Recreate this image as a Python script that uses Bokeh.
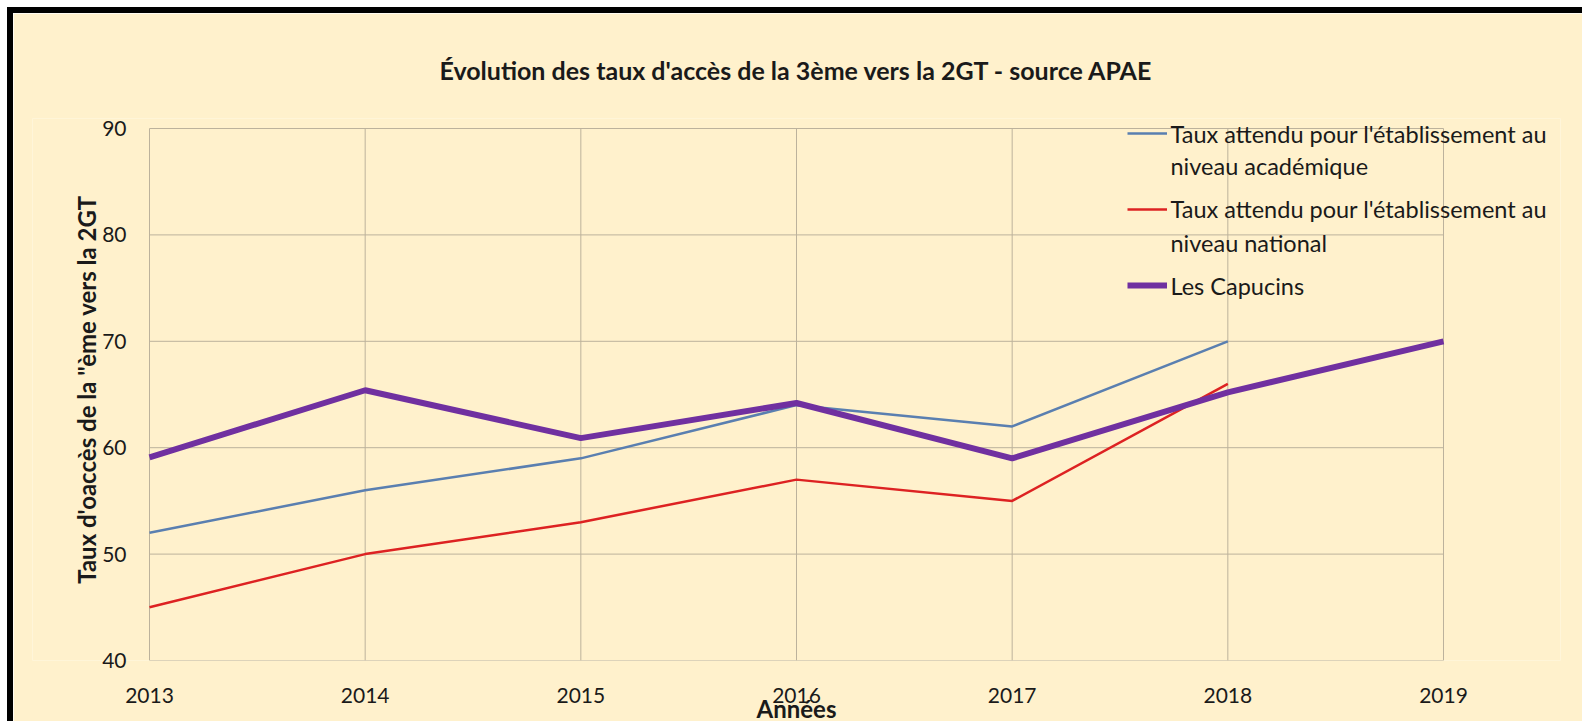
from bokeh.plotting import figure
from bokeh.models import Range1d, FixedTicker, Legend, LegendItem, Label
from bokeh.embed import file_html
from bokeh.resources import INLINE

years = [2013, 2014, 2015, 2016, 2017, 2018, 2019]
years_ref = [2013, 2014, 2015, 2016, 2017, 2018]
academique = [52, 56, 59, 64, 62, 70]
national = [45, 50, 53, 57, 55, 66]
capucins = [59.1, 65.4, 60.9, 64.2, 59.0, 65.2, 70.0]
y_ticks = [40, 50, 60, 70, 80, 90]

legend_lines = [
    ["Taux attendu pour l'établissement au", "niveau académique"],
    ["Taux attendu pour l'établissement au", "niveau national"],
    ["Les Capucins"],
]

BG = "#FFF1CC"
GRID = "#BCB29C"
TXT = "#1a1a1a"
FONT = "Lato"

# layout geometry (canvas pixels)
W, H = 1575, 714
GRID_L, GRID_R = 136, 1430          # where 2013 and 2019 sit
PLOT_T, PLOT_B = 105, 647            # drawing frame top / bottom (40 at the bottom)
GRID_H = 532                         # pixel height of the 40..90 grid area
EXT = 117                            # frame is widened by this much on both sides (keeps 2016 centred)
PLOT_L, PLOT_R = GRID_L - EXT, GRID_R + EXT

x0, x1 = years[0], years[-1]
y0, y1 = y_ticks[0], y_ticks[-1]
px_per_year = (GRID_R - GRID_L) / (x1 - x0)
x_start = x0 - EXT / px_per_year
x_end = x1 + EXT / px_per_year
y_end = y0 + (y1 - y0) * (PLOT_B - PLOT_T) / GRID_H

p = figure(width=W, height=H, output_backend="svg", toolbar_location=None,
           x_range=Range1d(x_start, x_end), y_range=Range1d(y0, y_end),
           title="Évolution des taux d'accès de la 3ème vers la 2GT - source APAE",
           min_border_left=PLOT_L, min_border_right=W - PLOT_R,
           min_border_top=PLOT_T, min_border_bottom=H - PLOT_B)
p.styles = {"border-top": "6px solid black", "border-left": "6px solid black",
            "margin-top": "7px", "margin-left": "7px"}
p.background_fill_color = BG
p.border_fill_color = BG
p.outline_line_color = None

p.title.align = "left"
p.title.text_font = FONT
p.title.text_font_size = "25px"
p.title.text_font_style = "bold"
p.title.text_color = TXT
p.title.standoff = 68
p.title.offset = 290 + EXT

for ax in (p.xaxis[0], p.yaxis[0]):
    ax.axis_line_color = None
    ax.major_tick_line_color = None
    ax.minor_tick_line_color = None
    ax.major_tick_out = 0
    ax.major_tick_in = 0
    ax.minor_tick_out = 0
    ax.major_label_text_font = FONT
    ax.major_label_text_font_size = "21px"
    ax.major_label_text_color = TXT
    ax.axis_label_text_font = FONT
    ax.axis_label_text_font_style = "bold"
    ax.axis_label_text_color = TXT
    ax.axis_label_text_font_size = "24px"

p.xaxis.ticker = FixedTicker(ticks=years)
p.yaxis.ticker = FixedTicker(ticks=y_ticks)
p.xaxis.axis_label = "Années"
p.yaxis.axis_label = "Taux d'oaccès de la \"ème vers la 2GT"
p.xaxis.major_label_standoff = 27
p.xaxis.axis_label_standoff = -12
# y labels sit just left of the 2013 line, i.e. inside the widened frame
p.yaxis.major_label_standoff = 23 - EXT
p.yaxis.axis_label_standoff = -2

p.xgrid.visible = False
p.ygrid.visible = False
p.segment(x0=[x0] * len(y_ticks), y0=y_ticks, x1=[x1] * len(y_ticks), y1=y_ticks,
          line_color=GRID, line_width=1, level="underlay")
p.segment(x0=years, y0=[y0] * len(years), x1=years, y1=[y1] * len(years),
          line_color=GRID, line_width=1, level="underlay")

r1 = p.line(years_ref, academique, line_color="#5A7FB0", line_width=2.5)
r2 = p.line(years_ref, national, line_color="#DD2222", line_width=2.5)
r3 = p.line(years, capucins, line_color="#7030A0", line_width=6)

legend = Legend(items=[LegendItem(label=" ", renderers=[r1]),
                       LegendItem(label=" ", renderers=[r2]),
                       LegendItem(label=" ", renderers=[r3])],
                location=(978 + EXT, 365), padding=0, margin=0, spacing=56,
                glyph_width=40, glyph_height=20, label_height=20, label_standoff=0,
                label_width=1, border_line_color=None, background_fill_alpha=0)
legend.label_text_font_size = "10px"
p.add_layout(legend, "center")

text_rows = [(legend_lines[0][0], 527), (legend_lines[0][1], 495),
             (legend_lines[1][0], 452), (legend_lines[1][1], 418),
             (legend_lines[2][0], 375)]
for txt, yy in text_rows:
    p.add_layout(Label(x=1021 + EXT, y=yy, x_units="screen", y_units="screen", text=txt,
                       text_font=FONT, text_font_size="23.5px", text_color=TXT,
                       text_baseline="middle", text_align="left"))

open("out.html", "w").write(file_html(p, INLINE))
